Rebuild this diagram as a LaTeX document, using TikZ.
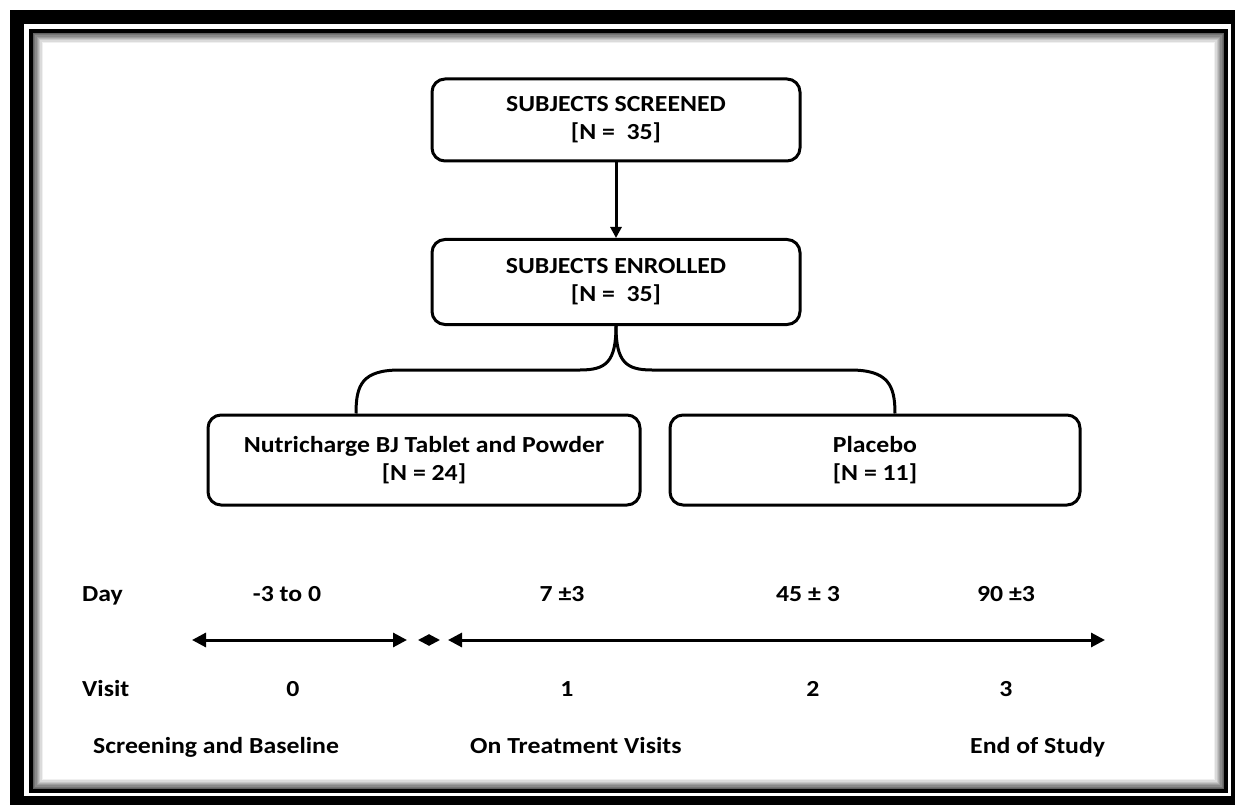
\documentclass[tikz,border=0pt]{standalone}
\usepackage{fontspec}
\setmainfont{Carlito}[FakeStretch=1.12]
\usetikzlibrary{arrows.meta,positioning}
\begin{document}
\begin{tikzpicture}[x=1pt,y=-1pt,
  box/.style={draw,line width=3pt,rounded corners=13pt,align=center,
    inner sep=0pt,font=\bfseries\fontsize{23}{28}\selectfont},
  lbl/.style={font=\bfseries\fontsize{23}{26}\selectfont,inner sep=0pt},
  tip/.style={line width=3pt,{Triangle[width=14pt,length=14pt]}-{Triangle[width=14pt,length=14pt]}}]
  \useasboundingbox (0,0) rectangle (1235,805);
  % frame
  \fill[black] (10,10) rectangle (1235,805);
  \fill[white] (24,24) rectangle (1231,796);
  \draw[line width=4pt] (31,31) rectangle (1226,791);
  \foreach \i [evaluate=\i as \g using 70-8*\i] in {1,...,8}
    \draw[black!\g,line width=1.3pt] (32+1.3*\i,32+1.3*\i) rectangle (1225-1.3*\i,790-1.3*\i);
  % boxes
  \node[box,minimum width=368pt,minimum height=82pt] (screened) at (616,120)
    {SUBJECTS SCREENED\\{[N =~ 35]}};
  \node[box,minimum width=368pt,minimum height=85pt] (enrolled) at (616,282)
    {SUBJECTS ENROLLED\\{[N =~ 35]}};
  \node[box,minimum width=432pt,minimum height=90pt] (nutri) at (424,460)
    {Nutricharge BJ Tablet and Powder\\{[N = 24]}};
  \node[box,minimum width=410pt,minimum height=90pt] (placebo) at (875,460)
    {Placebo\\{[N = 11]}};
  \draw[line width=3pt,-{Triangle[width=11pt,length=11pt]}] (screened) -- (enrolled);
  % brace
  \coordinate (lleg) at ([xshift=-68pt]nutri.north);
  \coordinate (rleg) at ([xshift=20pt]placebo.north);
  \draw[line width=3pt] (enrolled.south) .. controls (616,362) and (606,370) .. (580,370)
    -- (400,370) .. controls (362,370) and (356,385) .. (lleg);
  \draw[line width=3pt] (enrolled.south) .. controls (616,362) and (626,370) .. (652,370)
    -- (850,370) .. controls (888,370) and (895,385) .. (rleg);
  % time line
  \node[lbl,anchor=base west] (day) at (82,601) {Day};
  \node[lbl,anchor=base] (d0) at (287,601) {-3 to 0};
  \node[lbl,anchor=base] (d1) at (562,601) {7 ±3};
  \node[lbl,anchor=base] (d2) at (808,601) {45 ± 3};
  \node[lbl,anchor=base] (d3) at (1006,601) {90 ±3};
  \coordinate (a1) at (192,640);
  \coordinate (a2) at (407,640);
  \coordinate (b1) at (418,640);
  \coordinate (b2) at (440,640);
  \coordinate (c1) at (448,640);
  \coordinate (c2) at (1105,640);
  \draw[tip] (a1) -- (a2);
  \draw[line width=2pt,{Triangle[width=11pt,length=11pt]}-{Triangle[width=11pt,length=11pt]}] (b1) -- (b2);
  \draw[tip] (c1) -- (c2);
  \node[lbl,anchor=base west] (visit) at (82,696) {Visit};
  \node[lbl,anchor=base] (v0) at (293,696) {0};
  \node[lbl,anchor=base] (v1) at (567,696) {1};
  \node[lbl,anchor=base] (v2) at (813,696) {2};
  \node[lbl,anchor=base] (v3) at (1006,696) {3};
  \node[lbl,anchor=base west] (screen) at (93,753) {Screening and Baseline};
  \node[lbl,anchor=base west] (treat) at (470,753) {On Treatment Visits};
  \node[lbl,anchor=base west] (eos) at (970,753) {End of Study};
\end{tikzpicture}
\end{document}
